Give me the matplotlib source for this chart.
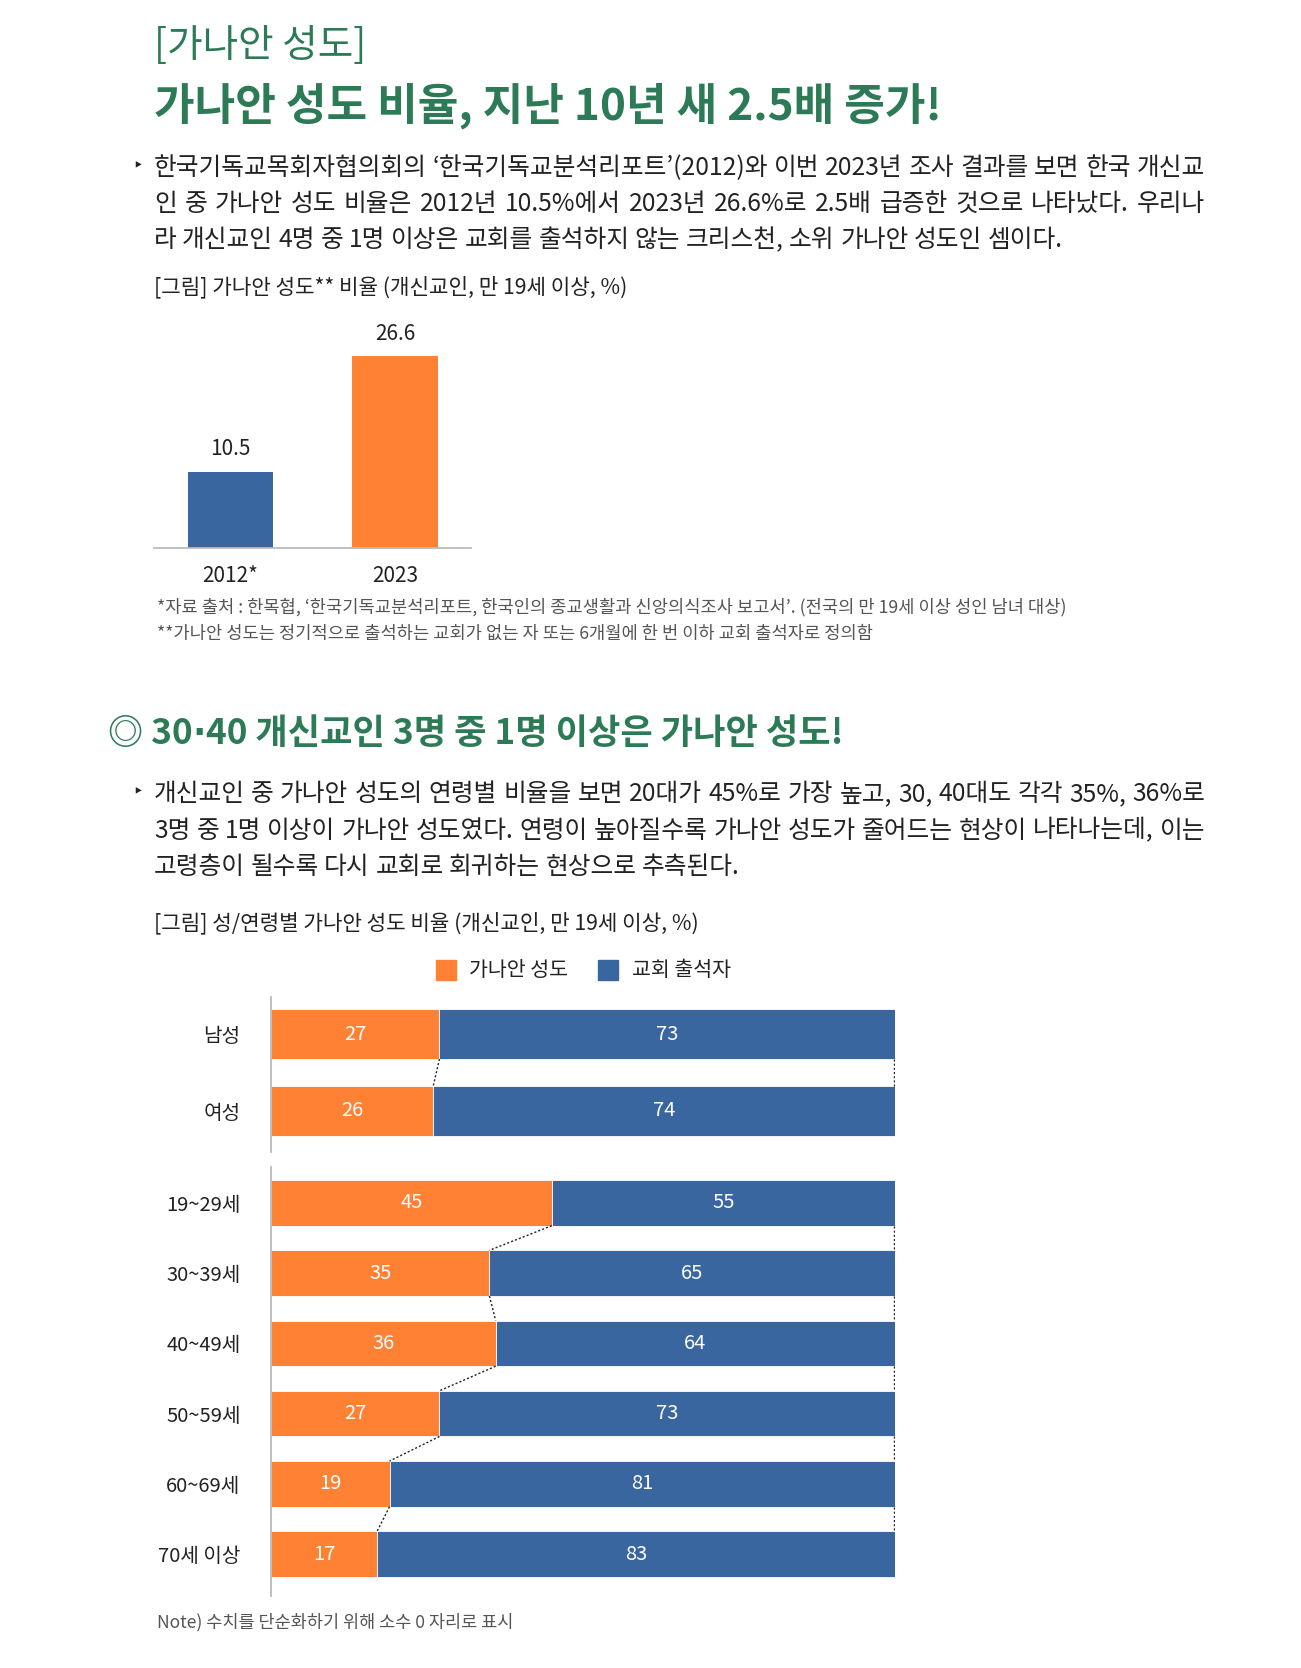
import matplotlib
matplotlib.use("Agg")
import matplotlib.pyplot as plt
from matplotlib.patches import Rectangle

# ---------------- data ----------------
years = ['2012*', '2023']
ganaan_ratio = [10.5, 26.6]

gender_labels = ['남성', '여성']
gender_ganaan = [27, 26]
gender_attend = [73, 74]

age_labels = ['19~29세', '30~39세', '40~49세', '50~59세', '60~69세', '70세 이상']
age_ganaan = [45, 35, 36, 27, 19, 17]
age_attend = [55, 65, 64, 73, 81, 83]

legend_labels = ['가나안 성도', '교회 출석자']

title_small = '[가나안 성도]'
title_big = '가나안 성도 비율, 지난 10년 새 2.5배 증가!'
para1 = ['한국기독교목회자협의회의 ‘한국기독교분석리포트’(2012)와 이번 2023년 조사 결과를 보면 한국 개신교',
         '인 중 가나안 성도 비율은 2012년 10.5%에서 2023년 26.6%로 2.5배 급증한 것으로 나타났다. 우리나',
         '라 개신교인 4명 중 1명 이상은 교회를 출석하지 않는 크리스천, 소위 가나안 성도인 셈이다.']
caption1 = '[그림] 가나안 성도** 비율 (개신교인, 만 19세 이상, %)'
foot1 = ['*자료 출처 : 한목협, ‘한국기독교분석리포트, 한국인의 종교생활과 신앙의식조사 보고서’. (전국의 만 19세 이상 성인 남녀 대상)',
         '**가나안 성도는 정기적으로 출석하는 교회가 없는 자 또는 6개월에 한 번 이하 교회 출석자로 정의함']
heading2_parts = ['◎ 30', '·', '40 개신교인 3명 중 1명 이상은 가나안 성도!']
para2 = ['개신교인 중 가나안 성도의 연령별 비율을 보면 20대가 45%로 가장 높고, 30, 40대도 각각 35%, 36%로',
         '3명 중 1명 이상이 가나안 성도였다. 연령이 높아질수록 가나안 성도가 줄어드는 현상이 나타나는데, 이는',
         '고령층이 될수록 다시 교회로 회귀하는 현상으로 추측된다.']
caption2 = '[그림] 성/연령별 가나안 성도 비율 (개신교인, 만 19세 이상, %)'
note = 'Note) 수치를 단순화하기 위해 소수 0 자리로 표시'

# ---------------- style ----------------
FONT = ['Noto Sans CJK KR', 'DejaVu Sans']
plt.rcParams['font.family'] = FONT
GREEN = '#2D7B56'
ORANGE = '#FF8133'
BLUE = '#3A66A0'
TEXT = '#222222'
GRAY = '#555555'

W, H = 1301, 1668
fig = plt.figure(figsize=(W / 100, H / 100), dpi=100)
fig.patch.set_facecolor('white')
renderer = fig.canvas.get_renderer()


def ftxt(x, y, s, **kw):
    kw.setdefault('va', 'center')
    kw.setdefault('ha', 'left')
    return fig.text(x / W, 1 - y / H, s, **kw)


def justified(x0, x1, y, line, justify=True, **kw):
    words = line.split(' ')
    objs = [ftxt(x0, y, w, **kw) for w in words]
    widths = [o.get_window_extent(renderer).width for o in objs]
    a = ftxt(x0, y, 'a a', **kw)
    b = ftxt(x0, y, 'aa', **kw)
    sp = a.get_window_extent(renderer).width - b.get_window_extent(renderer).width
    a.remove()
    b.remove()
    if justify and len(words) > 1:
        gap = (x1 - x0 - sum(widths)) / (len(words) - 1)
    else:
        gap = sp
    x = x0
    for o, w in zip(objs, widths):
        o.set_x(x / W)
        x += w + gap


def axes_px(x0, y0, x1, y1):
    return fig.add_axes([x0 / W, 1 - y1 / H, (x1 - x0) / W, (y1 - y0) / H])


# ---------------- header texts ----------------
ftxt(154, 46, title_small, fontsize=27.8, color=GREEN, fontweight='light')
ftxt(154, 106, title_big, fontsize=31.8, color=GREEN, fontweight='bold')

ftxt(132, 166, '‣', fontsize=13, color=TEXT, family=['DejaVu Sans'])
for i, line in enumerate(para1):
    justified(154, 1205, 168 + i * 36, line, justify=(i < len(para1) - 1),
              fontsize=17.8, color=TEXT)
ftxt(154, 287, caption1, fontsize=15.3, color=TEXT)

# ---------------- bar chart ----------------
ax1 = axes_px(154, 300, 471, 548)
xpos = list(range(len(years)))
ax1.bar(xpos, ganaan_ratio, width=0.517, color=[BLUE, ORANGE])
ax1.set_xlim(-0.465, 1.462)
ax1.set_ylim(0, 248 / 7.2)
for s in ['top', 'right', 'left']:
    ax1.spines[s].set_visible(False)
ax1.spines['bottom'].set_color('#bbbbbb')
ax1.spines['bottom'].set_linewidth(1.3)
ax1.set_yticks([])
ax1.set_xticks(xpos)
ax1.set_xticklabels(years, fontsize=15, color=TEXT)
ax1.tick_params(axis='x', length=0, pad=12)
for x, v in zip(xpos, ganaan_ratio):
    ax1.annotate(f'{v:.1f}', (x, v), xytext=(0, 16.5), textcoords='offset points',
                 ha='center', va='center', fontsize=15, color=TEXT)

for i, line in enumerate(foot1):
    ftxt(157, 607 + i * 27, line, fontsize=12.7, color=GRAY)

# ---------------- section 2 texts ----------------
hx = 108
for part in heading2_parts:
    fam = ['DejaVu Sans'] if part == '·' else FONT
    t = ftxt(hx, 734, part, fontsize=25.3, color=GREEN, fontweight='bold', family=fam)
    hx += t.get_window_extent(renderer).width

ftxt(132, 792, '‣', fontsize=13, color=TEXT, family=['DejaVu Sans'])
for i, line in enumerate(para2):
    justified(154, 1205, 794 + i * 36.5, line, justify=(i < len(para2) - 1),
              fontsize=17.8, color=TEXT)
ftxt(154, 923, caption2, fontsize=15.3, color=TEXT)

# legend
for (x0, col, lab, tx) in [(436, ORANGE, legend_labels[0], 469), (598, BLUE, legend_labels[1], 632)]:
    fig.add_artist(Rectangle((x0 / W, 1 - 980 / H), 20 / W, 20 / H, color=col,
                             transform=fig.transFigure))
    ftxt(tx, 970, lab, fontsize=14.8, color=TEXT)


# ---------------- stacked bars ----------------
def stacked(ax, labels, ganaan, attend, top_units, bottom_units):
    n = len(labels)
    ys = list(range(n))
    h = 0.65
    ax.barh(ys, ganaan, height=h, color=ORANGE, edgecolor='white', linewidth=0.6)
    ax.barh(ys, attend, left=ganaan, height=h, color=BLUE, edgecolor='white', linewidth=0.6)
    for y, g, a in zip(ys, ganaan, attend):
        ax.text(g / 2, y, f'{g}', ha='center', va='center', color='white', fontsize=14.5)
        ax.text(g + a / 2, y, f'{a}', ha='center', va='center', color='white', fontsize=14.5)
    for i in range(n - 1):
        ax.plot([ganaan[i], ganaan[i + 1]], [i + h / 2, i + 1 - h / 2],
                ls=(0, (1.5, 1.5)), color='#222222', lw=1.0)
        tot = ganaan[i] + attend[i]
        tot2 = ganaan[i + 1] + attend[i + 1]
        ax.plot([tot - 0.2, tot2 - 0.2], [i + h / 2, i + 1 - h / 2],
                ls=(0, (1.5, 1.5)), color='#222222', lw=1.0)
    ax.set_xlim(0, 100)
    ax.set_ylim(n - 1 + bottom_units, -top_units)
    for s in ['top', 'right', 'bottom']:
        ax.spines[s].set_visible(False)
    ax.spines['left'].set_color('#bbbbbb')
    ax.spines['left'].set_linewidth(1.3)
    ax.set_xticks([])
    ax.set_yticks(ys)
    ax.set_yticklabels(labels, fontsize=14.5, color=TEXT)
    ax.tick_params(axis='y', length=0, pad=22)


ax2 = axes_px(271, 997, 895, 1152)
stacked(ax2, gender_labels, gender_ganaan, gender_attend, 37 / 77, 41 / 77)

ax3 = axes_px(271, 1167, 895, 1596)
stacked(ax3, age_labels, age_ganaan, age_attend, 36 / 70.5, 42 / 70.5)

ftxt(157, 1622, note, fontsize=12.6, color=GRAY)

fig.savefig('out.png', dpi=100, facecolor='white')
